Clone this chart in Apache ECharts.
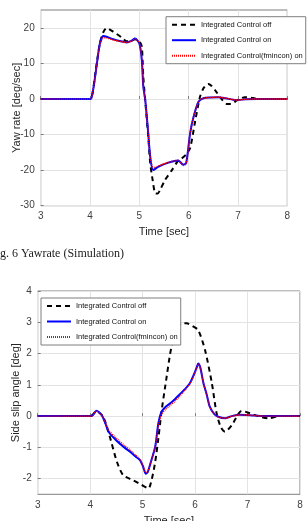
<!DOCTYPE html>
<html>
<head>
<meta charset="utf-8">
<script src="https://cdn.jsdelivr.net/npm/echarts@6/dist/echarts.min.js"></script>
<style>
html,body{margin:0;padding:0;background:#fff;}
#c{width:308px;height:521px;}
</style>
</head>
<body>
<div id="c"></div>
<script>
// ---- Series names ----
const seriesNames = ['Integrated Control off', 'Integrated Control on', 'Integrated Control(fmincon) on'];

// ---- Tick labels ----
const timeTicks = [3, 4, 5, 6, 7, 8];
const yawTicks = [-30, -20, -10, 0, 10, 20];
const slipTicks = [-2, -1, 0, 1, 2, 3, 4];

// ---- Yaw rate (top chart) ----
const yawOffT = [3, 4.0, 4.05, 4.12, 4.2, 4.27, 4.34, 4.47, 4.64, 4.74, 4.85, 4.91, 5.0, 5.05, 5.08, 5.13, 5.18, 5.22, 5.27, 5.32, 5.37, 5.42, 5.52, 5.66, 5.79, 5.86, 5.95, 6.03, 6.13, 6.23, 6.3, 6.36, 6.4, 6.46, 6.55, 6.65, 6.77, 6.86, 6.97, 7.06, 7.14, 7.25, 7.38, 7.6, 8];
const yawOffV = [0, 0, 1.5, 8.5, 15.6, 18.8, 19.9, 18.9, 17.3, 16.2, 16.4, 16.8, 16.2, 14.7, 6.3, -2.2, -10.5, -18, -22.8, -26.5, -26.6, -25.6, -22.8, -20, -17.3, -16.7, -15.6, -13.8, -6.4, 0.6, 3, 4, 4.2, 3.7, 2.2, 0.3, -1.4, -1.4, -0.5, 0.2, 0.5, 0.4, 0.05, 0, 0];

const yawOnT = [3, 4.0, 4.03, 4.08, 4.14, 4.2, 4.27, 4.35, 4.47, 4.6, 4.74, 4.85, 4.91, 5.0, 5.05, 5.08, 5.12, 5.18, 5.22, 5.28, 5.39, 5.59, 5.79, 5.89, 5.95, 6.03, 6.1, 6.2, 6.3, 6.45, 6.6, 6.75, 6.9, 7.0, 7.15, 7.4, 8];
const yawOnV = [0, 0, 0.3, 4, 10, 15.6, 17.7, 17.4, 16.8, 16.3, 15.9, 16.4, 17, 15.6, 11, 3.5, -0.3, -9.6, -16.2, -20, -19, -17.9, -17.3, -18.5, -18, -9.6, -5, -0.8, 0.2, 0.4, 0.5, 0.2, -0.2, -0.3, -0.1, 0, 0];

const yawFminT = [3, 4.0, 4.03, 4.08, 4.14, 4.2, 4.27, 4.35, 4.47, 4.6, 4.74, 4.85, 4.91, 5.0, 5.05, 5.08, 5.12, 5.18, 5.22, 5.28, 5.39, 5.59, 5.79, 5.89, 5.95, 6.03, 6.1, 6.2, 6.3, 6.45, 6.6, 6.75, 6.9, 7.0, 7.15, 7.4, 8];
const yawFminV = [0, 0, 0.3, 4, 10, 15.3, 17.2, 17.1, 16.6, 16.2, 15.9, 16.4, 17, 15.6, 11, 3.5, -0.3, -9.6, -16, -19.4, -18.8, -17.8, -17.2, -18.7, -18.2, -9.6, -5, -0.8, 0.2, 0.4, 0.5, 0.2, -0.2, -0.3, -0.1, 0, 0];

// ---- Side slip angle (bottom chart) ----
const slipOffT = [3, 4.0, 4.05, 4.12, 4.18, 4.25, 4.33, 4.41, 4.51, 4.63, 4.82, 4.98, 5.11, 5.17, 5.24, 5.3, 5.36, 5.43, 5.55, 5.64, 5.74, 5.84, 5.95, 6.06, 6.19, 6.32, 6.41, 6.49, 6.57, 6.7, 6.89, 7.05, 7.2, 7.4, 7.6, 8];
const slipOffV = [0, 0, 0.05, 0.17, 0.1, -0.02, -0.4, -0.87, -1.46, -1.89, -2.05, -2.2, -2.31, -2.05, -1.46, -0.71, 0.14, 0.94, 2.22, 2.65, 2.97, 2.97, 2.88, 2.75, 2.11, 1.05, 0.09, -0.35, -0.5, -0.29, 0.17, 0.09, 0, -0.07, 0, 0];

const slipOnT = [3, 4.0, 4.03, 4.12, 4.22, 4.29, 4.35, 4.5, 4.65, 4.76, 4.87, 4.95, 5.01, 5.06, 5.1, 5.16, 5.24, 5.3, 5.36, 5.44, 5.52, 5.62, 5.71, 5.8, 5.9, 5.97, 6.03, 6.06, 6.1, 6.16, 6.22, 6.28, 6.36, 6.44, 6.57, 6.7, 6.85, 7.05, 7.3, 8];
const slipOnV = [0, 0, 0, 0.17, 0.03, -0.23, -0.5, -0.78, -1.0, -1.14, -1.3, -1.41, -1.62, -1.84, -1.78, -1.45, -0.98, -0.23, 0.14, 0.3, 0.4, 0.55, 0.7, 0.85, 1.05, 1.3, 1.55, 1.68, 1.55, 1.05, 0.7, 0.3, 0.08, -0.02, -0.07, 0, 0.04, 0.03, 0, 0];

const slipFminT = [3, 4.0, 4.03, 4.12, 4.22, 4.29, 4.35, 4.5, 4.65, 4.76, 4.87, 4.95, 5.01, 5.06, 5.1, 5.16, 5.24, 5.3, 5.36, 5.44, 5.52, 5.62, 5.71, 5.8, 5.9, 5.97, 6.03, 6.06, 6.1, 6.16, 6.22, 6.28, 6.36, 6.44, 6.57, 6.7, 6.85, 7.05, 7.3, 8];
const slipFminV = [0, 0, 0, 0.17, 0.03, -0.2, -0.44, -0.71, -0.93, -1.08, -1.25, -1.38, -1.6, -1.8, -1.76, -1.45, -0.98, -0.3, 0.05, 0.22, 0.33, 0.48, 0.64, 0.82, 1.03, 1.28, 1.53, 1.66, 1.55, 1.05, 0.7, 0.3, 0.08, -0.02, -0.07, 0, 0.04, 0.03, 0, 0];

function pairs(t, v) { return t.map((x, i) => [x, v[i]]); }

const chart = echarts.init(document.getElementById('c'), null, {renderer: 'canvas'});

const labelStyle = {fontFamily: 'Liberation Sans, Arial, sans-serif', fontSize: 10, color: '#404040'};
const nameStyle = {fontFamily: 'Liberation Sans, Arial, sans-serif', fontSize: 11, color: '#262626'};
const legendText = {fontFamily: 'Liberation Sans, Arial, sans-serif', fontSize: 7.5, color: '#111'};

function xAx(grid, gap) {
  return {
    type: 'value', gridIndex: grid, min: 3, max: 8, interval: 1,
    name: 'Time [sec]', nameLocation: 'middle', nameGap: gap, nameMoveOverlap: false, nameTextStyle: nameStyle,
    axisLine: {show: false},
    axisTick: {show: true, inside: true, length: 3, lineStyle: {color: '#7f7f7f'}},
    axisLabel: Object.assign({margin: 6, customValues: timeTicks}, labelStyle),
    splitLine: {show: true, lineStyle: {color: '#e3e3e3', width: 1}}
  };
}

function seriesDef(name, grid, data, kind) {
  const base = {
    name: name, type: 'line', xAxisIndex: grid, yAxisIndex: grid,
    data: data, symbol: 'none', showSymbol: false, smooth: 0.25, animation: false
  };
  if (kind === 0) base.lineStyle = {color: '#000', width: 2, type: [5, 4]};
  if (kind === 1) base.lineStyle = {color: '#0000ff', width: 2};
  if (kind === 2) base.lineStyle = {color: '#ff0000', width: 1.4, type: [1, 1]};
  base.itemStyle = {color: base.lineStyle.color};
  base.z = 2;
  return base;
}

const legendBase = {
  orient: 'vertical', itemWidth: 24, itemHeight: 10, itemGap: 7.5,
  padding: [4, 3, 4, 5], backgroundColor: '#fff', borderColor: '#7f7f7f', borderWidth: 1,
  borderRadius: 0, textStyle: legendText, data: seriesNames, selectedMode: false, z: 20,
  itemStyle: {opacity: 0, color: 'rgba(0,0,0,0)', borderWidth: 0}
};

chart.setOption({
  animation: false,
  backgroundColor: '#fff',
  grid: [
    {left: 40.7, top: 10, width: 246.6, height: 195.7, show: true, borderColor: '#7f7f7f', borderWidth: 1, backgroundColor: 'transparent', outerBoundsMode: 'none', containLabel: false},
    {left: 37.7, top: 291, width: 262.3, height: 203.3, show: true, borderColor: '#7f7f7f', borderWidth: 1, backgroundColor: 'transparent', outerBoundsMode: 'none', containLabel: false}
  ],
  xAxis: [xAx(0, 21), xAx(1, 21)],
  yAxis: [
    {
      type: 'value', gridIndex: 0, min: -30, max: 25, interval: 10,
      name: 'Yaw rate [deg/sec]', nameLocation: 'middle', nameGap: 18, nameMoveOverlap: false, nameTextStyle: nameStyle,
      axisLine: {show: false},
      axisTick: {show: true, inside: true, length: 3, customValues: yawTicks, lineStyle: {color: '#7f7f7f'}},
      axisLabel: Object.assign({margin: 6, customValues: yawTicks}, labelStyle),
      splitLine: {show: true, lineStyle: {color: '#e3e3e3', width: 1}}
    },
    {
      type: 'value', gridIndex: 1, min: -2.5, max: 4, interval: 1,
      name: 'Side slip angle [deg]', nameLocation: 'middle', nameGap: 16.5, nameMoveOverlap: false, nameTextStyle: nameStyle,
      axisLine: {show: false},
      axisTick: {show: true, inside: true, length: 3, customValues: slipTicks, lineStyle: {color: '#7f7f7f'}},
      axisLabel: Object.assign({margin: 6, customValues: slipTicks}, labelStyle),
      splitLine: {show: true, lineStyle: {color: '#e3e3e3', width: 1}}
    }
  ],
  legend: [
    Object.assign({left: 166, top: 16.7}, legendBase),
    Object.assign({left: 41, top: 298}, legendBase)
  ],
  graphic: [
    {type: 'text', left: -10, top: 248, z: 10,
     style: {text: 'Fig. 6 Yawrate (Simulation)', font: '12px "Liberation Serif", "Times New Roman", serif', fill: '#222'}}
  ],
  series: [
    seriesDef(seriesNames[0], 0, pairs(yawOffT, yawOffV), 0),
    seriesDef(seriesNames[1], 0, pairs(yawOnT, yawOnV), 1),
    seriesDef(seriesNames[2], 0, pairs(yawFminT, yawFminV), 2),
    seriesDef(seriesNames[0], 1, pairs(slipOffT, slipOffV), 0),
    seriesDef(seriesNames[1], 1, pairs(slipOnT, slipOnV), 1),
    seriesDef(seriesNames[2], 1, pairs(slipFminT, slipFminV), 2)
  ]
});
</script>
</body>
</html>
